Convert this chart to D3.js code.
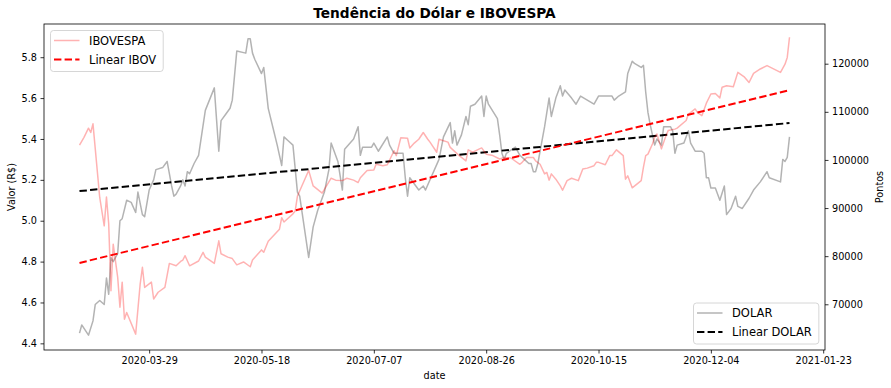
<!DOCTYPE html>
<html>
<head>
<meta charset="utf-8">
<script src="https://cdn.jsdelivr.net/npm/d3@7"></script>
<style>
  body { margin: 0; background: #fff; }
  svg { font-family: "DejaVu Sans", sans-serif; }
</style>
</head>
<body>
<div id="chart"></div>
<script>
// DOLAR (left axis, R$)
const dolarDates = [
  '2020-02-27','2020-02-28','2020-03-02','2020-03-04','2020-03-05','2020-03-07','2020-03-09','2020-03-10','2020-03-11','2020-03-12',
  '2020-03-13','2020-03-15','2020-03-16','2020-03-17','2020-03-19','2020-03-21','2020-03-23','2020-03-24','2020-03-26','2020-03-27',
  '2020-03-29','2020-03-31','2020-04-01','2020-04-04','2020-04-06','2020-04-08','2020-04-09','2020-04-10','2020-04-12','2020-04-13',
  '2020-04-14','2020-04-15','2020-04-16','2020-04-18','2020-04-20','2020-04-23','2020-04-27','2020-04-29','2020-04-30',
  '2020-05-02','2020-05-04','2020-05-05','2020-05-07','2020-05-11','2020-05-12','2020-05-13','2020-05-14','2020-05-15','2020-05-18',
  '2020-05-19','2020-05-21','2020-05-23','2020-05-25','2020-05-27','2020-05-28','2020-05-30',
  '2020-06-01','2020-06-03','2020-06-04','2020-06-08','2020-06-10','2020-06-12','2020-06-15','2020-06-17','2020-06-18','2020-06-21',
  '2020-06-23','2020-06-24','2020-06-28','2020-06-30',
  '2020-07-01','2020-07-02','2020-07-06','2020-07-07','2020-07-09','2020-07-13','2020-07-14','2020-07-16','2020-07-20','2020-07-21',
  '2020-07-22','2020-07-23','2020-07-27','2020-07-29','2020-07-30',
  '2020-08-05','2020-08-07','2020-08-10','2020-08-11','2020-08-12','2020-08-13','2020-08-15','2020-08-17','2020-08-18','2020-08-19',
  '2020-08-21','2020-08-24','2020-08-25','2020-08-26','2020-08-27','2020-08-31',
  '2020-09-01','2020-09-02','2020-09-03','2020-09-04','2020-09-08','2020-09-10','2020-09-12','2020-09-14','2020-09-15','2020-09-16',
  '2020-09-17','2020-09-18','2020-09-19','2020-09-21','2020-09-23','2020-09-24','2020-09-26','2020-09-28','2020-09-29','2020-09-30',
  '2020-10-03','2020-10-05','2020-10-07','2020-10-10','2020-10-13','2020-10-15','2020-10-18','2020-10-21','2020-10-22','2020-10-24',
  '2020-10-27','2020-10-28','2020-10-30','2020-10-31',
  '2020-11-03','2020-11-04','2020-11-05','2020-11-06','2020-11-07','2020-11-08','2020-11-09','2020-11-10','2020-11-12','2020-11-13',
  '2020-11-16','2020-11-17','2020-11-18','2020-11-19','2020-11-22','2020-11-24','2020-11-25','2020-11-27','2020-11-30',
  '2020-12-01','2020-12-02','2020-12-03','2020-12-04','2020-12-06','2020-12-08','2020-12-10','2020-12-11','2020-12-13','2020-12-15',
  '2020-12-16','2020-12-18','2020-12-21','2020-12-23','2020-12-26','2020-12-29','2020-12-30',
  '2021-01-04','2021-01-05','2021-01-06','2021-01-07','2021-01-08'
];
const dolarValues = [
  4.45,4.49,4.44,4.51,4.59,4.61,4.59,4.72,4.64,4.82,
  4.80,4.84,5.00,5.01,5.10,5.09,5.04,5.14,5.03,5.02,
  5.15,5.20,5.25,5.26,5.29,5.17,5.12,5.13,5.17,5.20,
  5.17,5.24,5.23,5.28,5.32,5.54,5.65,5.34,5.49,
  5.52,5.55,5.59,5.83,5.82,5.89,5.89,5.82,5.79,5.72,
  5.75,5.55,5.46,5.37,5.27,5.41,5.39,
  5.37,5.14,5.12,4.82,4.97,5.05,5.14,5.25,5.38,5.29,
  5.15,5.35,5.40,5.46,
  5.32,5.36,5.36,5.38,5.34,5.41,5.37,5.33,5.33,5.21,
  5.12,5.21,5.15,5.17,5.15,
  5.30,5.41,5.48,5.38,5.44,5.37,5.42,5.51,5.47,5.56,
  5.57,5.61,5.51,5.61,5.57,5.50,
  5.42,5.33,5.30,5.33,5.36,5.32,5.30,5.28,5.28,5.24,
  5.24,5.28,5.34,5.46,5.60,5.51,5.60,5.66,5.61,5.64,
  5.60,5.57,5.61,5.59,5.57,5.61,5.61,5.61,5.59,5.61,
  5.63,5.72,5.78,5.77,
  5.75,5.76,5.63,5.53,5.47,5.42,5.37,5.40,5.37,5.46,
  5.46,5.44,5.33,5.37,5.38,5.44,5.38,5.34,5.34,
  5.33,5.21,5.21,5.16,5.16,5.10,5.17,5.03,5.06,5.12,
  5.07,5.06,5.11,5.15,5.19,5.24,5.21,
  5.19,5.30,5.29,5.31,5.41
];

// IBOVESPA (right axis, pontos)
const ibovDates = [
  '2020-02-27','2020-02-29','2020-03-02','2020-03-03','2020-03-04','2020-03-07','2020-03-09','2020-03-10','2020-03-11','2020-03-12',
  '2020-03-13','2020-03-15','2020-03-16','2020-03-17','2020-03-18','2020-03-19','2020-03-23','2020-03-25','2020-03-26','2020-03-27',
  '2020-03-30','2020-03-31','2020-04-02','2020-04-05','2020-04-07','2020-04-10','2020-04-12','2020-04-13','2020-04-14','2020-04-16',
  '2020-04-20','2020-04-22','2020-04-23','2020-04-27','2020-04-29','2020-04-30',
  '2020-05-03','2020-05-05','2020-05-07','2020-05-10','2020-05-13','2020-05-14','2020-05-18','2020-05-19','2020-05-21','2020-05-26',
  '2020-05-27','2020-05-28',
  '2020-06-01','2020-06-02','2020-06-03','2020-06-08','2020-06-10','2020-06-14','2020-06-15','2020-06-18','2020-06-20','2020-06-23',
  '2020-06-25','2020-06-28','2020-06-30',
  '2020-07-01','2020-07-04','2020-07-07','2020-07-08','2020-07-11','2020-07-13','2020-07-16','2020-07-17','2020-07-19','2020-07-22',
  '2020-07-23','2020-07-25','2020-07-27','2020-07-29','2020-07-31',
  '2020-08-01','2020-08-04','2020-08-05','2020-08-07','2020-08-09','2020-08-10','2020-08-14','2020-08-17','2020-08-18','2020-08-20',
  '2020-08-23','2020-08-24','2020-08-26','2020-08-29',
  '2020-09-01','2020-09-03','2020-09-06','2020-09-10','2020-09-11','2020-09-13','2020-09-16','2020-09-17','2020-09-19','2020-09-21',
  '2020-09-22','2020-09-23','2020-09-24','2020-09-26','2020-09-28','2020-09-29',
  '2020-10-01','2020-10-03','2020-10-06','2020-10-08','2020-10-10','2020-10-13','2020-10-14','2020-10-15','2020-10-18','2020-10-20',
  '2020-10-21','2020-10-23','2020-10-26','2020-10-27','2020-10-28','2020-10-30',
  '2020-11-03','2020-11-04','2020-11-05','2020-11-06','2020-11-08','2020-11-09','2020-11-10','2020-11-12','2020-11-14','2020-11-15',
  '2020-11-18','2020-11-19','2020-11-23','2020-11-24','2020-11-27','2020-11-28','2020-11-30',
  '2020-12-02','2020-12-04','2020-12-06','2020-12-08','2020-12-09','2020-12-11','2020-12-14','2020-12-16','2020-12-19','2020-12-21',
  '2020-12-23','2020-12-26','2020-12-29',
  '2021-01-04','2021-01-06','2021-01-07','2021-01-08'
];
const ibovValues = [
  103100,104700,106600,105700,107500,92200,86300,92300,86700,72800,
  82500,75600,69400,74600,66900,68300,63800,74200,77700,73500,
  74600,71100,72500,73500,78500,78000,78900,79200,80100,78000,
  79000,80800,79800,78500,83200,80500,
  79800,79500,78200,78800,77800,79200,81300,80800,83100,85600,
  88000,87100,
  88800,89400,92500,97800,94600,93100,93900,96200,95800,95700,
  96200,95800,95300,
  96300,97800,97900,99100,98800,99000,101900,100900,104600,104500,
  102500,103500,104300,105700,104300,
  103700,101600,104300,104000,103700,102600,100900,99800,102100,101600,
  102300,102500,101200,100900,
  100200,100500,100400,99100,99500,100500,100500,99800,99100,97100,
  97400,95800,97100,96000,94600,93700,
  95700,96200,95700,98100,98300,98800,99500,99500,99000,100900,
  100900,102100,100900,96000,96700,94200,
  95700,98500,100900,101200,103300,104700,105400,102300,105000,106100,
  106400,106600,108200,109500,110600,109900,109200,
  111800,113700,113800,112900,115100,115400,115200,118200,117200,116100,
  118000,118900,119600,
  118200,119900,121300,125500
];

// linear trend, value at first and last date
const dolarTrend = [5.145, 5.478];
const ibovTrend = [78600, 114500];

const xTickLabels = ['2020-03-29', '2020-05-18', '2020-07-07', '2020-08-26', '2020-10-15', '2020-12-04', '2021-01-23'];
const leftTicks = [4.4, 4.6, 4.8, 5.0, 5.2, 5.4, 5.6, 5.8];
const rightTicks = [70000, 80000, 90000, 100000, 110000, 120000];

const W = 891, H = 388;
const margin = { top: 24, right: 66, bottom: 38, left: 44 };
const width = W - margin.left - margin.right;
const height = H - margin.top - margin.bottom;

const parse = d3.utcParse('%Y-%m-%d');
const fmt = d3.utcFormat('%Y-%m-%d');

const dolar = dolarDates.map((d, i) => ({ date: parse(d), value: dolarValues[i] }));
const ibov = ibovDates.map((d, i) => ({ date: parse(d), value: ibovValues[i] }));
const dolarLin = [{ date: dolar[0].date, value: dolarTrend[0] }, { date: dolar[dolar.length - 1].date, value: dolarTrend[1] }];
const ibovLin = [{ date: ibov[0].date, value: ibovTrend[0] }, { date: ibov[ibov.length - 1].date, value: ibovTrend[1] }];

const svg = d3.select('#chart')
  .append('svg')
  .attr('width', W)
  .attr('height', H);

const g = svg.append('g')
  .attr('transform', `translate(${margin.left},${margin.top})`);

// x with 5% padding like matplotlib
const t0 = dolar[0].date, t1 = dolar[dolar.length - 1].date;
const pad = (t1 - t0) * 0.05;
const x = d3.scaleUtc()
  .domain([new Date(+t0 - pad), new Date(+t1 + pad)])
  .range([0, width]);

const yL = d3.scaleLinear().domain([4.3675, 5.9625]).range([height, 0]);
const yR = d3.scaleLinear().domain([60500, 128250]).range([height, 0]);

// axes
const xAxis = g.append('g')
  .attr('transform', `translate(0,${height})`)
  .call(d3.axisBottom(x).tickValues(xTickLabels.map(parse)).tickFormat(fmt).tickSize(3.5).tickPadding(3.5).tickSizeOuter(0));

const lAxis = g.append('g')
  .call(d3.axisLeft(yL).tickValues(leftTicks).tickFormat(d3.format('.1f')).tickSize(3.5).tickPadding(3.5).tickSizeOuter(0));

const rAxis = g.append('g')
  .attr('transform', `translate(${width},0)`)
  .call(d3.axisRight(yR).tickValues(rightTicks).tickFormat(d3.format('d')).tickSize(3.5).tickPadding(3.5).tickSizeOuter(0));

[xAxis, lAxis, rAxis].forEach(a => {
  a.select('.domain').remove();
  a.selectAll('.tick line').attr('stroke', '#000').attr('stroke-width', 0.8);
  a.selectAll('.tick text').attr('fill', '#000').style('font-size', '9.7px').style('font-family', '"DejaVu Sans", sans-serif');
});

// lines (left axis first, right axis drawn over)
const lineL = d3.line().x(d => x(d.date)).y(d => yL(d.value));
const lineR = d3.line().x(d => x(d.date)).y(d => yR(d.value));

g.append('path')
  .datum(dolar)
  .attr('d', lineL)
  .attr('fill', 'none')
  .attr('stroke', 'gray')
  .attr('stroke-opacity', 0.6)
  .attr('stroke-width', 1.5)
  .attr('stroke-linejoin', 'round');

g.append('path')
  .datum(dolarLin)
  .attr('d', lineL)
  .attr('fill', 'none')
  .attr('stroke', '#000')
  .attr('stroke-width', 2)
  .attr('stroke-dasharray', '7.4,3.2');

g.append('path')
  .datum(ibov)
  .attr('d', lineR)
  .attr('fill', 'none')
  .attr('stroke', 'red')
  .attr('stroke-opacity', 0.3)
  .attr('stroke-width', 1.5)
  .attr('stroke-linejoin', 'round');

g.append('path')
  .datum(ibovLin)
  .attr('d', lineR)
  .attr('fill', 'none')
  .attr('stroke', 'red')
  .attr('stroke-width', 2)
  .attr('stroke-dasharray', '7.4,3.2');

// frame
g.append('rect')
  .attr('width', width)
  .attr('height', height)
  .attr('fill', 'none')
  .attr('stroke', '#000')
  .attr('stroke-width', 0.8);

// labels
svg.append('text')
  .attr('x', margin.left + width / 2)
  .attr('y', 18)
  .attr('text-anchor', 'middle')
  .style('font-size', '13.7px')
  .style('font-weight', 'bold')
  .text('Tendência do Dólar e IBOVESPA');

svg.append('text')
  .attr('x', margin.left + width / 2)
  .attr('y', 379)
  .attr('text-anchor', 'middle')
  .style('font-size', '9.7px')
  .text('date');

svg.append('text')
  .attr('transform', `translate(15,${margin.top + height / 2}) rotate(-90)`)
  .attr('text-anchor', 'middle')
  .style('font-size', '9.7px')
  .text('Valor (R$)');

svg.append('text')
  .attr('transform', `translate(883,${margin.top + height / 2}) rotate(-90)`)
  .attr('text-anchor', 'middle')
  .style('font-size', '9.7px')
  .text('Pontos');

// legends
function legend(x0, y0, items) {
  const lg = svg.append('g').attr('transform', `translate(${x0},${y0})`);
  const box = lg.append('rect')
    .attr('rx', 3)
    .attr('fill', '#fff')
    .attr('fill-opacity', 0.8)
    .attr('stroke', '#ccc')
    .attr('stroke-width', 0.8);
  let maxW = 0;
  items.forEach((it, i) => {
    const cy = 10 + i * 19;
    lg.append('line')
      .attr('x1', 3.5).attr('x2', 29)
      .attr('y1', cy).attr('y2', cy)
      .attr('stroke', it.color)
      .attr('stroke-opacity', it.opacity)
      .attr('stroke-width', it.dash ? 2 : 1.5)
      .attr('stroke-dasharray', it.dash ? '7.4,3.2' : null);
    const t = lg.append('text')
      .attr('x', 38.5)
      .attr('y', cy + 4.2)
      .style('font-size', '11.5px')
      .text(it.label);
    maxW = Math.max(maxW, t.node().getComputedTextLength());
  });
  box.attr('width', 38.5 + maxW + 7).attr('height', items.length * 19 + 3);
}

legend(50.5, 30.5, [
  { label: 'IBOVESPA', color: 'red', opacity: 0.3 },
  { label: 'Linear IBOV', color: 'red', opacity: 1, dash: true }
]);

legend(693.5, 303, [
  { label: 'DOLAR', color: 'gray', opacity: 0.6 },
  { label: 'Linear DOLAR', color: '#000', opacity: 1, dash: true }
]);
</script>
</body>
</html>
